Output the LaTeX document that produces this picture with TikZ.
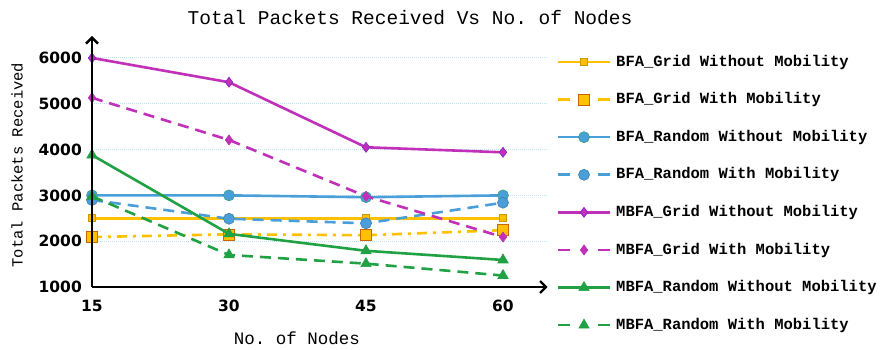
\documentclass[tikz,border=0pt]{standalone}
\usepackage{fontspec}
\setmonofont{Liberation Mono}
\setsansfont{DejaVu Sans}
\usetikzlibrary{arrows.meta,plotmarks}
\definecolor{gridgold}{HTML}{FFC000}
\definecolor{randblue}{HTML}{4A9FD8}
\definecolor{mgridpink}{HTML}{C030B8}
\definecolor{mrandgreen}{HTML}{20A244}
\definecolor{gridline}{HTML}{BFE3F2}
\tikzset{
  series/.style={line width=2.6pt},
  mobdash/.style={dash pattern=on 11pt off 7pt},
  s1/.style={series, gridgold, mark=square*, mark size=3.5pt,
    mark options={solid, fill=gridgold, draw=gridgold!80!black, line width=0.6pt}},
  s2/.style={series, gridgold, dash pattern=on 10pt off 6pt on 3pt off 6pt, mark=square*, mark size=5.5pt,
    mark options={solid, fill=gridgold, draw=orange!80!black, line width=0.6pt}},
  s3/.style={series, randblue, mark=*, mark size=5.5pt,
    mark options={solid, fill=randblue, draw=mrandgreen!60!randblue, line width=0.6pt}},
  s4/.style={series, randblue, mobdash, mark=*, mark size=5.5pt,
    mark options={solid, fill=randblue, draw=randblue!80!black, line width=0.6pt}},
  s5/.style={series, mgridpink, mark=diamond*, mark size=5pt,
    mark options={solid, fill=mgridpink, draw=mgridpink!70!blue, line width=0.6pt}},
  s6/.style={series, mgridpink, mobdash, mark=diamond*, mark size=5pt,
    mark options={solid, fill=mgridpink, draw=mgridpink, line width=0.6pt}},
  s7/.style={series, mrandgreen, mark=triangle*, mark size=6pt,
    mark options={solid, fill=mrandgreen, draw=mrandgreen, line width=0.6pt}},
  s8/.style={series, mrandgreen, mobdash, mark=triangle*, mark size=6pt,
    mark options={solid, fill=mrandgreen, draw=mrandgreen, line width=0.6pt}},
  ticklabel/.style={font=\sffamily\bfseries\fontsize{15.5}{18}\selectfont, inner sep=2pt},
  legtext/.style={font=\ttfamily\bfseries\fontsize{15.5}{18}\selectfont, anchor=west, inner sep=0pt},
}
\begin{document}
\begin{tikzpicture}[x=1pt, y=1pt]
    \useasboundingbox[fill=white] (0,0) rectangle (882,350);

    %% title
    \node[font=\ttfamily\fontsize{19.5}{22}\selectfont] (title) at (410,332)
        {Total Packets Received Vs No. of Nodes};

    \begin{scope}[shift={(-45pt,17.2pt)}, x=9.133pt, y=0.0458pt]
      %% grid
      \foreach \v in {2000,3000,...,6000} {
        \draw[gridline, line width=1pt, densely dotted] (15,\v) -- (64.8,\v); }

      %% series
      \draw[s1] plot coordinates {(15,2500) (30,2500) (45,2500) (60,2500)};
      \draw[s2] plot coordinates {(15,2090) (30,2150) (45,2130) (60,2240)};
      \draw[s3] plot coordinates {(15,3000) (30,3000) (45,2960) (60,3000)};
      \draw[s4] plot coordinates {(15,2900) (30,2490) (45,2390) (60,2840)};
      \draw[s5] plot coordinates {(15,6000) (30,5470) (45,4050) (60,3940)};
      \draw[s6] plot coordinates {(15,5130) (30,4210) (45,2980) (60,2090)};
      \draw[s7] plot coordinates {(15,3880) (30,2160) (45,1790) (60,1590)};
      \draw[s8] plot coordinates {(15,2980) (30,1700) (45,1510) (60,1250)};

      %% axis
      \draw[line width=2.4pt, -{Straight Barb[length=6pt,width=12pt]}] (15,1000) -- (64.9,1000)
           coordinate (x axis end);
      \draw[line width=2.4pt, -{Straight Barb[length=6pt,width=12pt]}] (15,1000) -- (15,6480)
           coordinate (y axis end);

      \foreach \y in {1000,2000,...,6000} {
        \node[ticklabel, anchor=east] (ytick\y) at ([xshift=-8pt]15,\y) {\y}; }

      \foreach \x in {15,30,45,60} {
        \node[ticklabel, anchor=north] (xtick\x) at ([yshift=-11pt]\x,1000) {\x}; }
    \end{scope}

    %% axis labels
    \node[font=\ttfamily\fontsize{15.5}{18}\selectfont, rotate=90] (ylabel) at (17,185)
        {Total Packets Received};
    \node[font=\ttfamily\fontsize{17.5}{20}\selectfont] (xlabel) at (297,12) {No. of Nodes};

    %% legend
    \foreach \i/\txt in {1/BFA\_Grid Without Mobility, 2/BFA\_Grid With Mobility,
        3/BFA\_Random Without Mobility, 4/BFA\_Random With Mobility,
        5/MBFA\_Grid Without Mobility, 6/MBFA\_Grid With Mobility,
        7/MBFA\_Random Without Mobility, 8/MBFA\_Random With Mobility} {
      \node[legtext] (leg\i) at (616,{288-37.6*(\i-1)}) {\txt};
      \ifodd\i
        \draw[s\i] ([xshift=-58pt]leg\i.west) -- ([xshift=-6pt]leg\i.west);
      \else
        \draw[s\i, dash pattern=on 12pt off 28pt] ([xshift=-58pt]leg\i.west) -- ([xshift=-6pt]leg\i.west);
      \fi
      \draw[s\i] plot[only marks] coordinates {([xshift=-32pt]leg\i.west)};
    }

\end{tikzpicture}
\end{document}
